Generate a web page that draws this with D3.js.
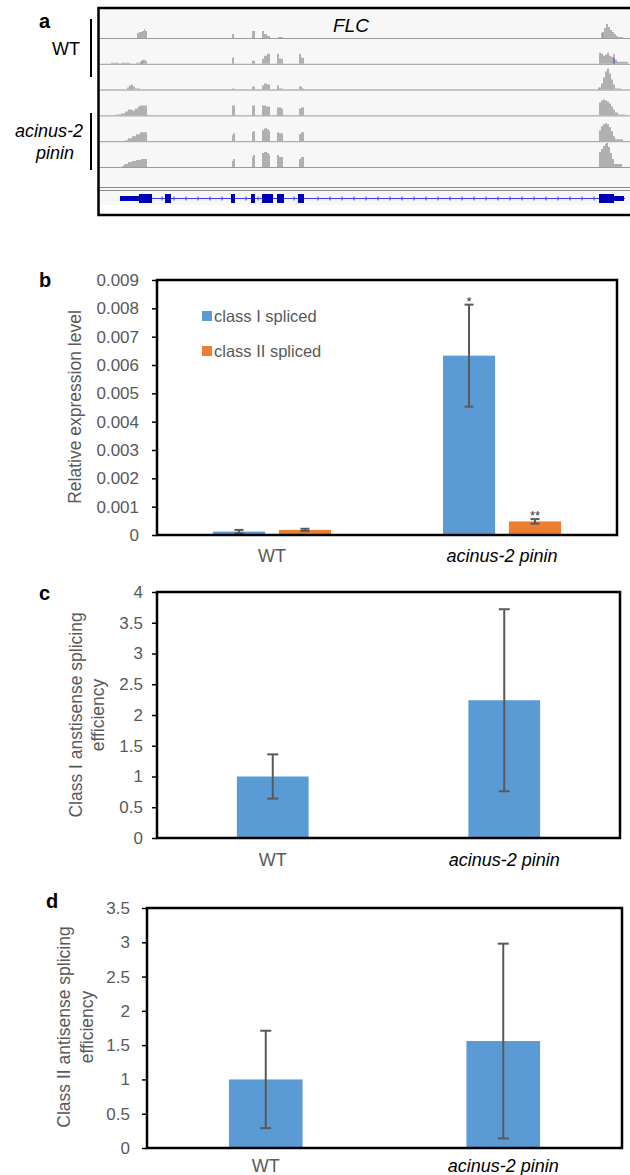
<!DOCTYPE html>
<html>
<head>
<meta charset="utf-8">
<script src="https://cdn.jsdelivr.net/npm/d3@7"></script>
<style>
  html, body { margin: 0; padding: 0; background: #fff; }
  svg { display: block; font-family: "Liberation Sans", Arial, sans-serif; }
</style>
</head>
<body>
<svg id="fig" width="630" height="1175"></svg>
<script>
// ---------- Panel a: FLC read coverage (positions in bp, depth in reads/unit) ----------
const geneSpan = [220, 5270];
const geneUTRs = [[220, 410], [5160, 5260]];
const geneExons = [[410, 540], [670, 730], [1330, 1370], [1530, 1570], [1640, 1750], [1790, 1860], [2000, 2060], [5010, 5160]];

const wtRep1 = [
  [[390, 5], [410, 6], [440, 7], [460, 9], [470, 7], [490, 0]],
  [[1340, 4], [1360, 0]],
  [[1540, 7], [1570, 0]],
  [[1640, 7], [1660, 4], [1690, 2], [1720, 0]],
  [[1800, 1], [1850, 0]],
  [[5040, 6], [5060, 10], [5080, 14], [5100, 11], [5120, 8], [5140, 6], [5160, 4], [5180, 2], [5200, 1], [5250, 0]]
];
const wtRep2 = [
  [[130, 1], [210, 0], [230, 1], [320, 0], [380, 1], [420, 2], [440, 4], [470, 3], [490, 0]],
  [[1340, 6], [1360, 0]],
  [[1540, 3], [1570, 0]],
  [[1640, 5], [1660, 8], [1690, 10], [1720, 0]],
  [[1790, 10], [1810, 5], [1850, 0]],
  [[2010, 10], [2030, 6], [2060, 0]],
  [[5010, 11], [5030, 10], [5050, 8], [5070, 9], [5090, 11], [5110, 8], [5130, 7], [5150, 6], [5170, 4], [5190, 2], [5300, 0]]
];
const wtRep3 = [
  [[290, 2], [310, 4], [330, 5], [350, 3], [370, 1], [420, 0]],
  [[1340, 1], [1360, 0]],
  [[1540, 3], [1570, 0]],
  [[1640, 4], [1660, 6], [1690, 5], [1720, 0]],
  [[1790, 4], [1810, 1], [1850, 0]],
  [[2010, 3], [2040, 1], [2060, 0]],
  [[5010, 2], [5030, 6], [5050, 12], [5070, 18], [5090, 21], [5110, 16], [5130, 10], [5150, 5], [5170, 1], [5230, 0]]
];
const mutRep1 = [
  [[180, 1], [230, 2], [270, 4], [300, 6], [340, 5], [370, 7], [400, 9], [420, 10], [490, 0]],
  [[1340, 10], [1370, 0]],
  [[1540, 10], [1570, 0]],
  [[1640, 10], [1680, 9], [1720, 0]],
  [[1790, 8], [1830, 7], [1850, 0]],
  [[2010, 7], [2030, 8], [2060, 0]],
  [[5010, 13], [5030, 15], [5050, 16], [5070, 15], [5090, 14], [5110, 12], [5130, 9], [5150, 6], [5170, 3], [5200, 1], [5270, 0]]
];
const mutRep2 = [
  [[270, 1], [300, 3], [340, 5], [380, 7], [420, 9], [490, 0]],
  [[1340, 6], [1350, 8], [1370, 0]],
  [[1540, 9], [1550, 10], [1570, 0]],
  [[1640, 11], [1660, 13], [1690, 12], [1710, 10], [1720, 0]],
  [[1790, 9], [1810, 8], [1850, 0]],
  [[2010, 7], [2030, 9], [2060, 0]],
  [[5010, 11], [5030, 15], [5050, 17], [5070, 18], [5090, 17], [5110, 14], [5130, 10], [5150, 5], [5170, 2], [5250, 0]]
];
const mutRep3 = [
  [[240, 1], [260, 3], [300, 5], [340, 6], [380, 7], [430, 8], [490, 0]],
  [[1340, 6], [1350, 8], [1370, 0]],
  [[1540, 10], [1550, 12], [1570, 0]],
  [[1640, 14], [1660, 15], [1690, 14], [1710, 12], [1720, 0]],
  [[1790, 12], [1810, 10], [1850, 0]],
  [[2010, 8], [2030, 10], [2060, 0]],
  [[5010, 15], [5030, 18], [5050, 21], [5070, 23], [5080, 24], [5100, 20], [5120, 14], [5140, 8], [5160, 3], [5240, 0]]
];
const coverageTracks = [wtRep1, wtRep2, wtRep3, mutRep1, mutRep2, mutRep3];
// mismatch bars: track index, position, colour, depth range
const mismatches = [
  { track: 0, pos: 5040, color: "#33b233", d0: 0, d1: 5 },
  { track: 1, pos: 440, color: "#33b233", d0: 0, d1: 3 },
  { track: 1, pos: 5160, color: "#e06060", d0: 6, d1: 10 },
  { track: 1, pos: 5160, color: "#4040e0", d0: 0, d1: 6 },
  { track: 2, pos: 5010, color: "#33b233", d0: 0, d1: 2 }
];

// ---------- Panel b: spliced antisense transcripts ----------
const genotypes = ["WT", "acinus-2 pinin"];
const seriesNames = ["class I spliced", "class II spliced"];
const classISpliced = [0.00012, 0.00633];
const classISplicedErr = [0.00006, 0.0018];
const classIISpliced = [0.00018, 0.00048];
const classIISplicedErr = [0.00004, 0.00008];
const significance = [["", "*"], ["", "**"]];
const ticksB = d3.range(0, 0.0091, 0.001);

// ---------- Panel c: class I splicing efficiency ----------
const classIEfficiency = [1.0, 2.24];
const classIEfficiencyErr = [0.36, 1.48];
const ticksC = d3.range(0, 4.01, 0.5);

// ---------- Panel d: class II splicing efficiency ----------
const classIIEfficiency = [1.0, 1.56];
const classIIEfficiencyErr = [0.71, 1.42];
const ticksD = d3.range(0, 3.51, 0.5);

const BLUE = "#5b9bd5", ORANGE = "#ed7d31", GREY_TEXT = "#595959", ERR = "#595959";

const svg = d3.select("#fig");

function panelLetter(t, x, y) {
  svg.append("text").attr("x", x).attr("y", y).attr("font-size", 20)
    .attr("font-weight", "bold").attr("fill", "#000").text(t);
}

// ================= Panel a =================
(function () {
  const g = svg.append("g");
  const xa = d3.scaleLinear().domain([0, 5340]).range([98, 632]);
  const baselines = d3.range(6).map(i => 38 + i * 25.8);
  const depth = d3.scaleLinear().domain([0, 26]).range([0, 26]);

  g.append("rect").attr("x", 98).attr("y", 9).attr("width", 540).attr("height", 196).attr("fill", "#f7f7f7");

  // separators between tracks
  baselines.forEach((b, i) => {
    g.append("line").attr("x1", 98).attr("x2", 632).attr("y1", b + 0.5).attr("y2", b + 0.5)
      .attr("stroke", i === 2 ? "#c4c4c4" : "#9a9a9a").attr("stroke-width", i === 2 ? 2 : 1);
  });
  [187.5, 190.5].forEach(y => g.append("line").attr("x1", 98).attr("x2", 632)
    .attr("y1", y).attr("y2", y).attr("stroke", "#8a8a8a").attr("stroke-width", 1));

  // coverage histograms
  coverageTracks.forEach((peaks, i) => {
    const b = baselines[i];
    const area = d3.area().x(d => xa(d[0])).y0(b).y1(d => b - depth(d[1])).curve(d3.curveStepAfter);
    g.selectAll(null).data(peaks).enter().append("path")
      .attr("d", area).attr("fill", "#b0b0b0");
  });
  g.selectAll(null).data(mismatches).enter().append("rect")
    .attr("x", d => xa(d.pos) - 0.5).attr("width", 1)
    .attr("y", d => baselines[d.track] - depth(d.d1))
    .attr("height", d => depth(d.d1) - depth(d.d0))
    .attr("fill", d => d.color);

  // gene model
  const gy = 198.5;
  g.append("line").attr("x1", xa(geneSpan[0])).attr("x2", xa(geneSpan[1]))
    .attr("y1", gy).attr("y2", gy).attr("stroke", "#3a3aff").attr("stroke-width", 1);
  const tickPos = d3.range(geneSpan[0] + 60, geneSpan[1], 120)
    .filter(p => !geneExons.concat(geneUTRs).some(e => p >= e[0] - 20 && p <= e[1] + 20));
  g.selectAll(null).data(tickPos).enter().append("line")
    .attr("x1", d => xa(d)).attr("x2", d => xa(d)).attr("y1", gy - 2).attr("y2", gy + 2)
    .attr("stroke", "#3a3aff").attr("stroke-width", 1);
  g.selectAll(null).data(geneUTRs).enter().append("rect")
    .attr("x", d => xa(d[0])).attr("width", d => xa(d[1]) - xa(d[0]))
    .attr("y", gy - 2.5).attr("height", 5).attr("fill", "#0000b4");
  g.selectAll(null).data(geneExons).enter().append("rect")
    .attr("x", d => xa(d[0])).attr("width", d => xa(d[1]) - xa(d[0]))
    .attr("y", gy - 4.5).attr("height", 9).attr("fill", "#0000b4");

  // frame
  g.append("rect").attr("x", 98.5).attr("y", 8).attr("width", 545).attr("height", 207)
    .attr("fill", "none").attr("stroke", "#000").attr("stroke-width", 2.5);

  g.append("text").attr("x", 333).attr("y", 32).attr("font-size", 19)
    .attr("font-style", "italic").text("FLC");

  // sample group labels
  g.append("text").attr("x", 66).attr("y", 55).attr("font-size", 18).attr("text-anchor", "middle").text("WT");
  g.append("line").attr("x1", 91).attr("x2", 91).attr("y1", 19).attr("y2", 77).attr("stroke", "#000").attr("stroke-width", 2);
  g.append("text").attr("x", 49).attr("y", 137).attr("font-size", 18).attr("font-style", "italic")
    .attr("text-anchor", "middle").text("acinus-2");
  g.append("text").attr("x", 55).attr("y", 159).attr("font-size", 18).attr("font-style", "italic")
    .attr("text-anchor", "middle").text("pinin");
  g.append("line").attr("x1", 91).attr("x2", 91).attr("y1", 113).attr("y2", 170).attr("stroke", "#000").attr("stroke-width", 2);

  panelLetter("a", 39, 28);
})();

// ================= bar chart helper =================
function frameAndAxis(box, y, ticks, fmt, pad) {
  const g = svg.append("g");
  const axis = d3.axisLeft(y).tickValues(ticks).tickFormat(fmt).tickSize(5).tickSizeOuter(0).tickPadding(pad);
  const ag = g.append("g").attr("transform", `translate(${box.left},0)`).call(axis);
  ag.select(".domain").remove();
  ag.selectAll(".tick line").attr("stroke", "#000").attr("stroke-width", 1.5);
  ag.selectAll(".tick text").attr("font-size", 17).attr("fill", GREY_TEXT)
    .attr("font-family", "Liberation Sans, Arial, sans-serif");
  return g;
}
function drawFrame(box) {
  svg.append("rect").attr("x", box.left).attr("y", box.top)
    .attr("width", box.right - box.left).attr("height", box.bottom - box.top)
    .attr("fill", "none").attr("stroke", "#000").attr("stroke-width", 2.5);
}
function errorBar(g, cx, y, v, e, cap) {
  g.append("line").attr("x1", cx).attr("x2", cx).attr("y1", y(v + e)).attr("y2", y(v - e))
    .attr("stroke", ERR).attr("stroke-width", 2);
  [v + e, v - e].forEach(t => g.append("line").attr("x1", cx - cap / 2).attr("x2", cx + cap / 2)
    .attr("y1", y(t)).attr("y2", y(t)).attr("stroke", ERR).attr("stroke-width", 2));
}
function xLabels(x, yPos) {
  genotypes.forEach((name, i) => {
    svg.append("text").attr("x", x(name) + x.bandwidth() / 2).attr("y", yPos)
      .attr("text-anchor", "middle").attr("font-size", 18)
      .attr("fill", i === 0 ? GREY_TEXT : "#000")
      .attr("font-style", i === 0 ? "normal" : "italic").text(name);
  });
}
function yTitle(lines, xs, cy) {
  lines.forEach((t, i) => {
    svg.append("text").attr("transform", `translate(${xs[i]},${cy}) rotate(-90)`)
      .attr("text-anchor", "middle").attr("font-size", 17.5).attr("fill", GREY_TEXT).text(t);
  });
}

// ================= Panel b =================
(function () {
  const box = { left: 157, right: 617, top: 280, bottom: 535 };
  const y = d3.scaleLinear().domain([0, 0.009]).range([box.bottom, box.top]);
  const x0 = d3.scaleBand().domain(genotypes).range([box.left, box.right]);
  const x1 = d3.scaleBand().domain(seriesNames).range([56, 174]).paddingInner(0.21);
  const g = frameAndAxis(box, y, ticksB, d => d === 0 ? "0" : d3.format(".3f")(d), 13);

  const series = [
    { name: seriesNames[0], vals: classISpliced, errs: classISplicedErr, color: BLUE, sig: significance[0] },
    { name: seriesNames[1], vals: classIISpliced, errs: classIISplicedErr, color: ORANGE, sig: significance[1] }
  ];
  series.forEach(s => {
    genotypes.forEach((gname, i) => {
      const bx = x0(gname) + x1(s.name);
      g.append("rect").attr("x", bx).attr("width", x1.bandwidth())
        .attr("y", y(s.vals[i])).attr("height", y(0) - y(s.vals[i])).attr("fill", s.color);
      const cx = bx + x1.bandwidth() / 2;
      errorBar(g, cx, y, s.vals[i], s.errs[i], 9);
      if (s.sig[i]) {
        g.append("text").attr("x", cx).attr("y", y(s.vals[i] + s.errs[i]) + 1)
          .attr("text-anchor", "middle").attr("font-size", 13).attr("fill", "#333").text(s.sig[i]);
      }
    });
  });
  drawFrame(box);

  // legend
  const lg = svg.append("g");
  series.forEach((s, i) => {
    const ly = 316 + i * 35;
    lg.append("rect").attr("x", 202).attr("y", ly - 5).attr("width", 10).attr("height", 10).attr("fill", s.color);
    lg.append("text").attr("x", 214).attr("y", ly + 6).attr("font-size", 16.5).attr("fill", GREY_TEXT).text(s.name);
  });

  xLabels(x0, 562);
  yTitle(["Relative expression level"], [81], 407);
  panelLetter("b", 39, 287);
})();

// ================= Panels c and d =================
function effPanel(box, domainMax, ticks, vals, errs, pad, labelY, titles, titleXs, titleY) {
  const y = d3.scaleLinear().domain([0, domainMax]).range([box.bottom, box.top]);
  const x = d3.scaleBand().domain(genotypes).range([box.left, box.right]).paddingInner(0.69).paddingOuter(0.345);
  const g = frameAndAxis(box, y, ticks, d => String(+d.toFixed(1)), pad);
  genotypes.forEach((gname, i) => {
    g.append("rect").attr("x", x(gname)).attr("width", x.bandwidth())
      .attr("y", y(vals[i])).attr("height", y(0) - y(vals[i])).attr("fill", BLUE);
    errorBar(g, x(gname) + x.bandwidth() / 2, y, vals[i], errs[i], 11);
  });
  drawFrame(box);
  xLabels(x, labelY);
  yTitle(titles, titleXs, titleY);
}

effPanel({ left: 157, right: 620, top: 592, bottom: 838 }, 4, ticksC,
  classIEfficiency, classIEfficiencyErr, 9, 866,
  ["Class I anstisense splicing", "efficiency"], [82, 104], 715);
panelLetter("c", 39, 600);

effPanel({ left: 147, right: 622, top: 908, bottom: 1148 }, 3.5, ticksD,
  classIIEfficiency, classIIEfficiencyErr, 12, 1172,
  ["Class II antisense splicing", "efficiency"], [70, 93], 1027);
panelLetter("d", 46, 908);
</script>
</body>
</html>
